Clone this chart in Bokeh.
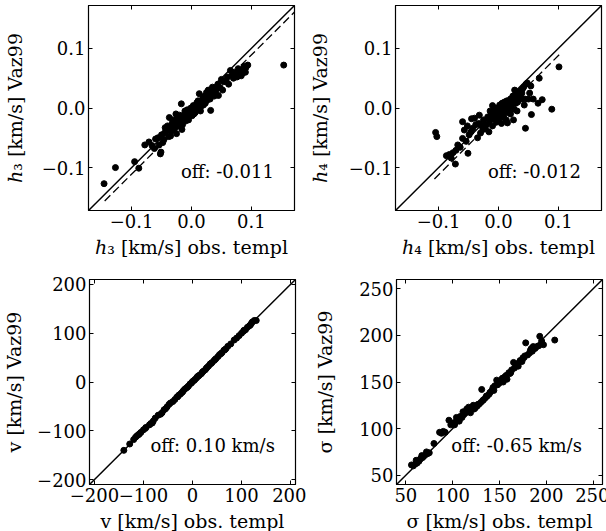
from bokeh.plotting import figure
from bokeh.layouts import column, row
from bokeh.models import LinearAxis, FixedTicker, Label, Range1d
from bokeh.embed import file_html
from bokeh.resources import INLINE

FONT = "DejaVu Serif"
TICK_FS = "18px"
LABEL_FS = "19px"
OFF_FS = "18px"

# ---------------- data ----------------
h3_obs = [-0.146, -0.127, -0.095, -0.088, 0.154,
          -0.078, -0.071, -0.062, -0.054, -0.052, -0.051, -0.050, -0.046, -0.038, -0.037, -0.037,
          -0.035, -0.033, -0.030, -0.028, -0.025, -0.020, -0.018, -0.017, -0.016, -0.015, -0.013,
          -0.012, -0.010, -0.008, -0.006, -0.004, -0.002, 0.000, 0.002, 0.004, 0.005, 0.007, 0.009,
          0.010, 0.012, 0.013, 0.014, 0.016, 0.018, 0.019, 0.020, 0.022, 0.024, 0.025, 0.027, 0.030,
          0.032, 0.033, 0.036, 0.040, 0.042, 0.045, 0.048, 0.050, 0.054, 0.058, 0.065, 0.068, 0.072,
          0.075, 0.080, 0.083, 0.086, 0.090, 0.094, 0.091, 0.078, 0.070,
          -0.045, -0.042, -0.040, -0.034, -0.031, -0.027, -0.024, -0.022, -0.020, -0.019, -0.014,
          -0.011, -0.009, -0.007, -0.005, -0.003, -0.001, 0.001, 0.003, 0.006, 0.008, 0.011, 0.015,
          0.017, 0.021, 0.023, 0.026, 0.028, 0.031, 0.035, 0.038, -0.060, -0.066, -0.056, -0.048,
          -0.044, -0.032, -0.026, 0.044, 0.052, 0.060, 0.062, 0.085, 0.088, 0.076]
h3_vaz = [-0.127, -0.100, -0.090, -0.101, 0.072,
          -0.062, -0.057, -0.068, -0.062, -0.077, -0.074, -0.045, -0.053, -0.048, -0.016, -0.037,
          -0.047, -0.038, -0.027, -0.034, -0.043, -0.020, -0.025, 0.007, -0.036, -0.028, -0.012,
          -0.017, -0.022, -0.010, -0.015, -0.005, -0.012, -0.007, -0.003, -0.010, 0.002, -0.004, 0.009,
          -0.001, 0.005, 0.024, 0.010, 0.003, 0.012, 0.017, 0.005, 0.020, 0.015, 0.026, 0.018, 0.021,
          -0.004, 0.030, 0.024, 0.026, 0.032, 0.021, 0.034, 0.048, 0.044, 0.045, 0.063, 0.055, 0.060,
          0.058, 0.063, 0.054, 0.065, 0.060, 0.072, 0.068, 0.066, 0.050,
          -0.042, -0.038, -0.030, -0.030, -0.020, -0.025, -0.018, -0.030, -0.012, -0.027, -0.020,
          -0.005, -0.018, -0.003, -0.020, -0.008, 0.000, -0.013, 0.004, -0.008, 0.001, 0.012, -0.005,
          0.007, 0.011, 0.008, 0.013, 0.030, 0.015, 0.035, 0.020, -0.052, -0.063, -0.050, -0.058,
          -0.033, -0.025, -0.010, 0.040, 0.030, 0.052, 0.040, 0.058, 0.070, 0.052]

h4_obs = [-0.105, -0.103, -0.087, -0.079, -0.076, -0.072, -0.071, -0.068,
          -0.060, -0.057, -0.060, -0.054, -0.051, -0.049,
          -0.045, -0.040, -0.043, -0.035, -0.033, -0.030,
          -0.028, -0.025, -0.022, -0.020, -0.018, -0.016, -0.015, -0.012, -0.010, -0.010, -0.008,
          -0.006, -0.004, -0.002, 0.000, 0.001, 0.003, 0.004, 0.006, 0.007, 0.008, 0.010, 0.012,
          0.013, 0.014, 0.016, 0.018, 0.020, 0.022, 0.024, 0.026, 0.028, 0.030, 0.032, 0.034, 0.036,
          0.038, 0.040, 0.042, 0.044, 0.045, 0.046, 0.048, 0.050, 0.052, 0.054, 0.055, 0.058, 0.066,
          0.068, 0.073, 0.089, 0.101, 0.020, 0.025, -0.038, -0.032, -0.026, -0.014, 0.002, 0.011,
          0.017, 0.029, 0.035, -0.052, -0.046, -0.064, -0.082, 0.031, 0.015, 0.009, -0.006, 0.005,
          0.027, 0.039, 0.043]
h4_vaz = [-0.041, -0.048, -0.080, -0.084, -0.075, -0.094, -0.071, -0.062,
          -0.023, -0.037, -0.051, -0.056, -0.076, -0.045,
          -0.018, -0.017, -0.034, -0.050, -0.026, -0.042,
          -0.030, -0.020, -0.035, -0.028, -0.015, -0.040, -0.022, -0.010, 0.004, -0.030, -0.018,
          -0.008, -0.024, -0.012, -0.004, -0.020, 0.000, -0.010, 0.008, -0.015, -0.004, 0.010, 0.002,
          -0.020, 0.012, 0.005, -0.008, 0.015, 0.006, 0.020, -0.002, 0.015, 0.025, 0.010, 0.015, 0.028,
          0.015, 0.032, 0.035, 0.015, -0.034, 0.040, 0.042, 0.015, 0.025, 0.037, -0.011, 0.015, 0.008,
          0.050, 0.014, -0.002, 0.069, -0.010, -0.020, -0.028, -0.012, -0.036, -0.005, 0.005, -0.006,
          0.000, 0.008, 0.022, -0.030, -0.040, -0.066, -0.078, -0.005, -0.025, -0.012, 0.000, -0.026,
          0.030, 0.025, 0.005]

v_obs = [-140, -128, -120, -116, -113, -110, -108, -105, -100, -96, -88, -82, -80, -76, -70, -62,
         -58, -52, -48, -45, -40, -36, -32, -28, -25, -20, -18, -15, -12, -8, -5, -2, 0, 3, 5, 8,
         10, 14, 18, 22, 26, 30, 33, 36, 40, 44, 48, 52, 55, 60, 64, 68, 72, 78, 85, 90, 95, 100,
         104, 108, 112, 116, 120, 122, 126, 130, -95, -85, -65, -55, -30, -22, -10, 12, 20, 28, 38,
         46, 58, 66, 105, 118]
v_vaz = [-140, -127, -118, -113, -110, -108, -106, -103, -98, -95, -88, -84, -80, -74, -68, -63,
         -57, -51, -46, -43, -40, -36, -31, -27, -25, -20, -17, -14, -12, -8, -4, -2, 1, 3, 5, 8,
         11, 14, 17, 22, 25, 30, 33, 37, 40, 44, 48, 52, 56, 60, 65, 68, 73, 78, 86, 90, 95, 100,
         104, 107, 112, 115, 120, 123, 126, 126, -93, -85, -66, -55, -30, -22, -10, 12, 20, 28, 38,
         46, 58, 66, 106, 117]

s_obs = [56, 58, 60, 61, 62, 64, 65, 66, 67, 68, 70, 72, 73, 75, 80, 86, 88, 90, 92, 96, 98, 100,
         103, 104, 106, 108, 110, 111, 112, 114, 115, 116, 117, 118, 120, 122, 124, 126, 128, 130,
         131, 132, 133, 135, 137, 139, 140, 142, 144, 145, 147, 148, 150, 152, 154, 155, 157, 158,
         160, 161, 163, 165, 166, 168, 170, 172, 174, 175, 177, 178, 180, 182, 183, 185, 186, 188,
         190, 192, 193, 195, 197, 209, 102, 107, 119, 123, 127, 136, 143, 153, 162, 170, 176, 184]
s_vaz = [61, 60, 62, 66, 63, 65, 67, 68, 71, 69, 71, 75, 73, 74, 84, 96, 95, 97, 96, 109, 104, 106,
         107, 112, 110, 113, 112, 118, 115, 117, 121, 119, 123, 118, 121, 125, 122, 124, 126, 128,
         142, 130, 131, 133, 135, 137, 139, 141, 141, 146, 152, 147, 149, 151, 150, 155, 157, 153,
         160, 159, 163, 171, 165, 168, 170, 173, 172, 176, 178, 192, 179, 181, 184, 183, 188, 186,
         188, 189, 199, 194, 190, 195, 104, 108, 117, 121, 126, 135, 144, 154, 160, 167, 176, 186]

h_ticks = [-0.1, 0.0, 0.1]
h_tick_labels = ["\u22120.1", "0.0", "0.1"]
v_ticks = [-200, -100, 0, 100, 200]
v_tick_labels = ["\u2212200", "\u2212100", "0", "100", "200"]
s_ticks = [50, 100, 150, 200, 250]
s_tick_labels = ["50", "100", "150", "200", "250"]

h_lim = (-0.172, 0.172)
v_lim = (-210, 210)
s_lim = (40, 260)

h3_fit_x = [-0.145, 0.172]
h3_off = -0.011
h4_fit_x = [-0.107, 0.102]
h4_off = -0.012


def panel(xs, ys, lim, ticks, tick_labels, xlabel, ylabel, off_text,
          fit_x, fit_off, bl, br, bt, bb, ylab_standoff, xlab_standoff):
    lo, hi = lim
    p = figure(frame_width=206, frame_height=205,
               x_range=Range1d(lo, hi), y_range=Range1d(lo, hi),
               output_backend="svg", toolbar_location=None,
               min_border_left=bl, min_border_right=br,
               min_border_top=bt, min_border_bottom=bb,
               x_axis_label=xlabel, y_axis_label=ylabel)
    p.grid.visible = False
    p.outline_line_color = "black"
    p.outline_line_width = 1.2
    p.add_layout(LinearAxis(), "above")
    p.add_layout(LinearAxis(), "right")
    overrides = {t: l for t, l in zip(ticks, tick_labels)}
    for ax in p.axis:
        ax.ticker = FixedTicker(ticks=ticks)
        ax.major_label_overrides = overrides
        ax.major_tick_in = 4
        ax.major_tick_out = 0
        ax.minor_tick_line_color = None
        ax.axis_line_color = "black"
        ax.major_tick_line_color = "black"
        ax.major_label_text_font = FONT
        ax.major_label_text_font_size = TICK_FS
        ax.major_label_text_color = "black"
        ax.major_label_standoff = 3
        ax.axis_label_text_font = FONT
        ax.axis_label_text_font_size = LABEL_FS
        ax.axis_label_text_font_style = "normal"
        ax.axis_label_text_color = "black"
    p.xaxis[0].major_label_standoff = 1
    p.xaxis[0].axis_label_standoff = xlab_standoff
    p.yaxis[0].axis_label_standoff = ylab_standoff
    for ax in p.above + p.right:
        ax.major_label_overrides = {t: "" for t in ticks}
        ax.major_label_standoff = 0
    p.line([lo, hi], [lo, hi], line_color="black", line_width=1.5)
    if fit_x is not None:
        p.line(fit_x, [x + fit_off for x in fit_x], line_color="black",
               line_width=1.3, line_dash="8 4")
    p.scatter(xs, ys, size=6, color="black")
    p.add_layout(Label(x=lo + 0.9 * (hi - lo), y=lo + 0.19 * (hi - lo),
                       text=off_text, text_align="right", text_baseline="middle",
                       text_font=FONT, text_font_size=OFF_FS, text_color="black"))
    return p


p1 = panel(h3_obs, h3_vaz, h_lim, h_ticks, h_tick_labels,
           "\u210e\u2083 [km/s] obs. templ", "\u210e\u2083 [km/s] Vaz99", "off: -0.011",
           h3_fit_x, h3_off, 86, 11, 5, 55, 13, 4)
p2 = panel(h4_obs, h4_vaz, h_lim, h_ticks, h_tick_labels,
           "\u210e\u2084 [km/s] obs. templ", "\u210e\u2084 [km/s] Vaz99", "off: -0.012",
           h4_fit_x, h4_off, 90, 7, 5, 55, 15, 4)
p3 = panel(v_obs, v_vaz, v_lim, v_ticks, v_tick_labels,
           "v [km/s] obs. templ", "v [km/s] Vaz99", "off: 0.10 km/s",
           None, None, 86, 11, 14, 47, 9, 0)
p4 = panel(s_obs, s_vaz, s_lim, s_ticks, s_tick_labels,
           "\u03c3 [km/s] obs. templ", "\u03c3 [km/s] Vaz99", "off: -0.65 km/s",
           None, None, 90, 7, 14, 47, 20, 0)

layout = column(row(p1, p2), row(p3, p4))
open("out.html", "w").write(file_html(layout, INLINE))
